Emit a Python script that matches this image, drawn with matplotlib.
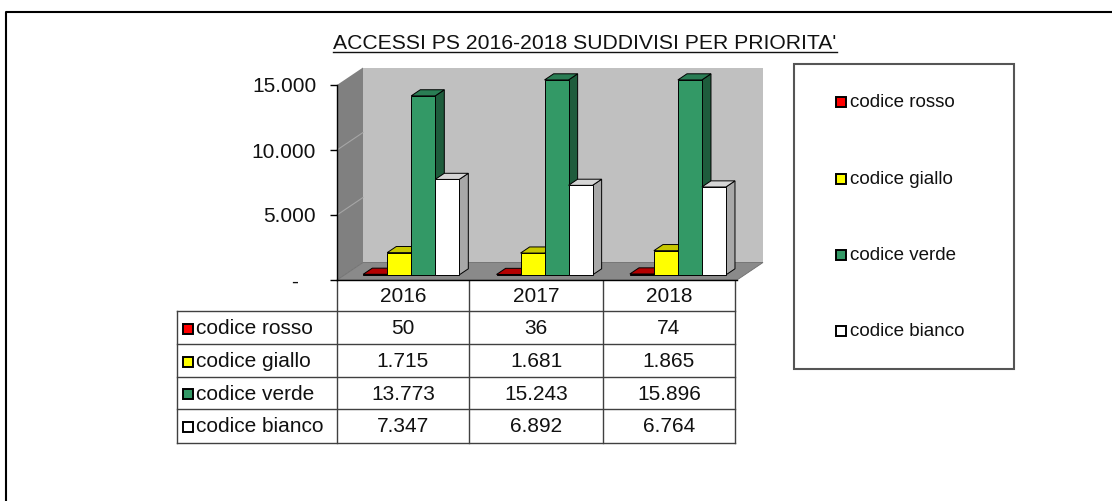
import matplotlib
matplotlib.use("Agg")
import matplotlib.pyplot as plt
from matplotlib.patches import Polygon, Rectangle

plt.rcParams['font.family'] = ['Liberation Sans', 'DejaVu Sans']

# accessi PS per anno e codice di priorita'
anni = ['2016', '2017', '2018']
codici = ['codice rosso', 'codice giallo', 'codice verde', 'codice bianco']
rosso = [50, 36, 74]
giallo = [1715, 1681, 1865]
verde = [13773, 15243, 15896]
bianco = [7347, 6892, 6764]
serie = [rosso, giallo, verde, bianco]

y_ticks = [0, 5000, 10000, 15000]
y_labels = ['-   ', '5.000', '10.000', '15.000']
y_max = 15000

# fronte, cima e lato di ogni serie
col_fronte = ['#ff0000', '#ffff00', '#339966', '#ffffff']
col_cima = ['#b40000', '#c8c800', '#2a7d54', '#d6d6d6']
col_lato = ['#7a0000', '#a3a300', '#1e5c3c', '#a8a8a8']


def fmt(v):
    return f"{v:,}".replace(",", ".")


W, H = 1112, 501
fig = plt.figure(figsize=(W / 100, H / 100), dpi=100)

# assi di sfondo in pixel: cornice, titolo, tabella, legenda
bg = fig.add_axes([0, 0, 1, 1])
bg.set_xlim(0, W)
bg.set_ylim(H, 0)
bg.axis('off')

# grafico 3D simulato
ax = fig.add_axes([337 / W, (H - 280) / H, 400 / W, 195 / H])
ax.set_xlim(0, 3)
ax.set_ylim(0, y_max)
ax.patch.set_alpha(0)
for s in ['top', 'right', 'bottom']:
    ax.spines[s].set_visible(False)
ax.spines['left'].set_linewidth(1)
ax.set_xticks([])
ax.set_yticks(y_ticks)
ax.set_yticklabels(y_labels, fontsize=15, color='#111111')
ax.tick_params(axis='y', direction='out', length=5, width=1, pad=10)

DX = 0.195   # profondita' in unita' categoria
DY = 1346    # profondita' in unita' di valore

# pareti e pavimento
ax.add_patch(Polygon([(0, 0), (DX, DY), (DX, y_max + DY), (0, y_max)],
                     closed=True, fc='#808080', ec='none', clip_on=False, zorder=0.5))
ax.add_patch(Polygon([(DX, DY), (3 + DX, DY), (3 + DX, y_max + DY), (DX, y_max + DY)],
                     closed=True, fc='#c0c0c0', ec='none', clip_on=False, zorder=0.5))
ax.add_patch(Polygon([(0, 0), (3, 0), (3 + DX, DY), (DX, DY)],
                     closed=True, fc='#8a8a8a', ec='#6e6e6e', lw=0.6, clip_on=False, zorder=0.6))
for v in y_ticks[1:-1]:
    ax.plot([0, DX], [v, v + DY], color='#a6a6a6', lw=0.8, clip_on=False, zorder=0.7)
ax.plot([0, 3], [0, 0], color='black', lw=1, clip_on=False, zorder=0.8)

# barre
gap = 0.28
w = (1 - gap) / 4
f0, f1 = 0.29, 0.64
ddx = (f1 - f0) * DX
ddy = (f1 - f0) * DY
z = 1
for i in range(len(anni)):
    for j, valori in enumerate(serie):
        h = min(valori[i], y_max)
        x0 = i + gap / 2 + j * w + f0 * DX
        y0 = f0 * DY
        side = Polygon([(x0 + w, y0), (x0 + w + ddx, y0 + ddy),
                        (x0 + w + ddx, y0 + h + ddy), (x0 + w, y0 + h)],
                       closed=True, fc=col_lato[j], ec='black', lw=0.7,
                       clip_on=False, zorder=z)
        top = Polygon([(x0, y0 + h), (x0 + w, y0 + h),
                       (x0 + w + ddx, y0 + h + ddy), (x0 + ddx, y0 + h + ddy)],
                      closed=True, fc=col_cima[j], ec='black', lw=0.7,
                      clip_on=False, zorder=z)
        front = Rectangle((x0, y0), w, h, fc=col_fronte[j], ec='black', lw=0.7,
                          clip_on=False, zorder=z)
        ax.add_patch(side)
        ax.add_patch(top)
        ax.add_patch(front)
        z += 0.01

# cornice esterna
bg.plot([6, 6, W], [H, 12, 12], color='black', lw=1.5)

# titolo sottolineato
title = bg.text(585, 43, "ACCESSI PS 2016-2018 SUDDIVISI PER PRIORITA'",
                ha='center', va='center', fontsize=15.2, color='#111111')
fig.canvas.draw()
bb = title.get_window_extent()
inv = bg.transData.inverted()
(tx0, ty0) = inv.transform((bb.x0, bb.y0))
(tx1, _) = inv.transform((bb.x1, bb.y0))
bg.plot([tx0, tx1], [ty0 - 1, ty0 - 1], color='#111111', lw=1)

# tabella dei dati
col_x = [177, 337, 469, 603, 735]
row_y = [280, 311, 344, 377, 409, 443]
lc = '#404040'
for x in col_x[1:]:
    bg.plot([x, x], [row_y[0], row_y[-1]], color=lc, lw=1)
bg.plot([col_x[0], col_x[0]], [row_y[1], row_y[-1]], color=lc, lw=1)
for y in row_y[1:]:
    bg.plot([col_x[0], col_x[-1]], [y, y], color=lc, lw=1)

for k, anno in enumerate(anni):
    cx = (col_x[k + 1] + col_x[k + 2]) / 2
    bg.text(cx, (row_y[0] + row_y[1]) / 2 + 1, anno, ha='center', va='center',
            fontsize=15, color='#111111')

for j, (nome, valori) in enumerate(zip(codici, serie)):
    cy = (row_y[j + 1] + row_y[j + 2]) / 2 + 1
    bg.add_patch(Rectangle((183, cy - 5), 10, 10, fc=col_fronte[j], ec='black', lw=1.4))
    bg.text(196, cy, nome, ha='left', va='center', fontsize=15, color='#111111')
    for k, v in enumerate(valori):
        cx = (col_x[k + 1] + col_x[k + 2]) / 2
        bg.text(cx, cy, fmt(v), ha='center', va='center', fontsize=15, color='#111111')

# legenda
bg.add_patch(Rectangle((794, 64), 220, 305, fc='white', ec='#555555', lw=1.5))
leg_y = [102, 179, 255, 331]
for j, nome in enumerate(codici):
    bg.add_patch(Rectangle((836, leg_y[j] - 5), 10, 10, fc=col_fronte[j], ec='black', lw=1.4))
    bg.text(850, leg_y[j], nome, ha='left', va='center', fontsize=13.5, color='#111111')

fig.savefig('out.png', dpi=100)
